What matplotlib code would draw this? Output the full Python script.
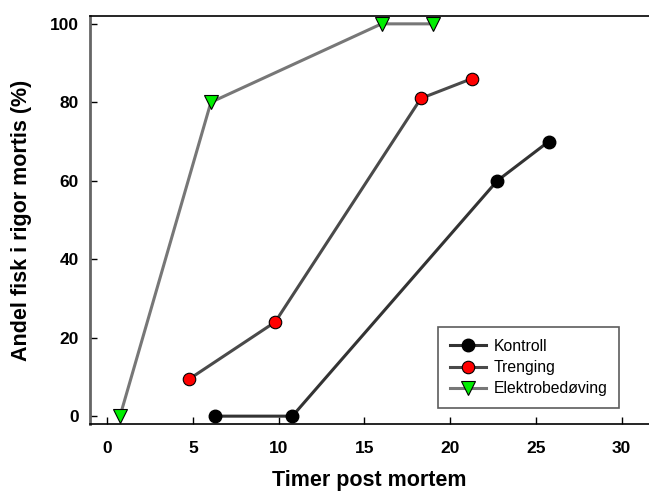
"""Andel fisk i rigor mortis over tid, tre behandlinger"""

import matplotlib
matplotlib.use("Agg")
from matplotlib import pyplot as plt

plt.rcParams["font.family"] = ["Liberation Sans", "DejaVu Sans"]

kontroll_x = [6.3, 10.8, 22.75, 25.75]
kontroll_y = [0, 0, 60, 70]
trenging_x = [4.8, 9.8, 18.3, 21.25]
trenging_y = [9.5, 24, 81, 86]
elektro_x = [0.75, 6.05, 16.0, 19.0]
elektro_y = [0, 80, 100, 100]

x_ticks = [0, 5, 10, 15, 20, 25, 30]
y_ticks = [0, 20, 40, 60, 80, 100]


def main():
    fig = plt.figure(figsize=(6.49, 4.93), dpi=100)
    ax = fig.add_axes([90 / 649, 69 / 493, 1 - 90 / 649, 408 / 493])

    ax.plot(kontroll_x, kontroll_y, color="#333333", lw=2.2, marker="o",
            ms=9, mfc="black", mec="black", label="Kontroll")
    ax.plot(trenging_x, trenging_y, color="#4a4a4a", lw=2.2, marker="o",
            ms=9, mfc="red", mec="black", mew=0.8, label="Trenging")
    ax.plot(elektro_x, elektro_y, color="#777777", lw=2.2, marker="v",
            ms=10, mfc="#00ee00", mec="black", mew=0.8, label="Elektrobedøving")

    ax.set_xlim(-1.0, 31.6)
    ax.set_ylim(-2, 102)
    ax.set_xticks(x_ticks)
    ax.set_yticks(y_ticks)
    ax.tick_params(direction="in", length=5, width=1, labelsize=12.5, pad=8)
    ax.tick_params(axis="x", pad=12)
    for lab in ax.get_xticklabels() + ax.get_yticklabels():
        lab.set_fontweight("bold")

    ax.spines["right"].set_visible(False)
    ax.spines["left"].set_color("#666666")
    ax.spines["left"].set_linewidth(2)
    ax.spines["bottom"].set_linewidth(1.2)
    ax.spines["top"].set_linewidth(1.2)

    ax.set_xlabel("Timer post mortem", fontsize=15.5, fontweight="bold", labelpad=10)
    ax.set_ylabel("Andel fisk i rigor mortis (%)", fontsize=15.5,
                  fontweight="bold", labelpad=13)

    leg = ax.legend(loc="upper left", bbox_to_anchor=(348 / 559, 97 / 408),
                    frameon=True, fancybox=False, fontsize=11.3,
                    handlelength=2.3, borderpad=0.75, labelspacing=0.4,
                    handletextpad=0.5, borderaxespad=0)
    leg.get_frame().set_edgecolor("#333333")
    leg.get_frame().set_linewidth(1.2)

    fig.savefig("out.png", dpi=100)


if __name__ == "__main__":
    main()
